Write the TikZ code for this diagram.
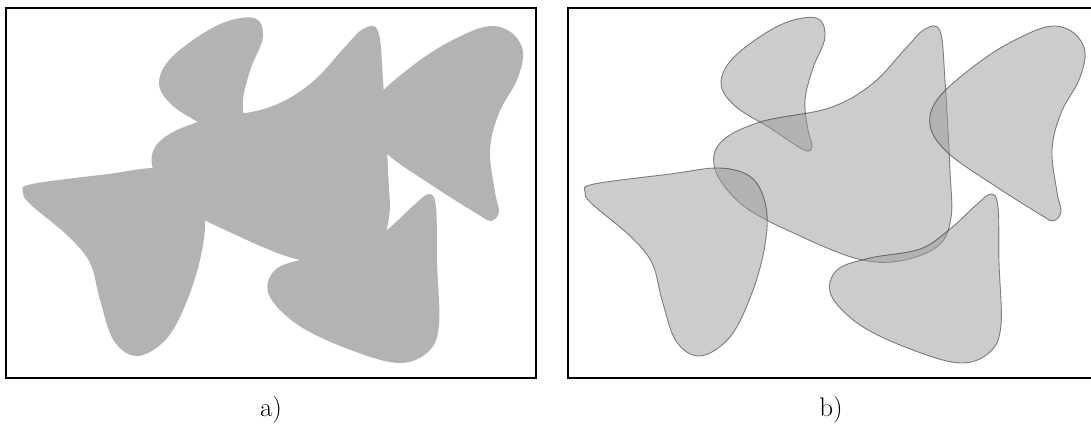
\documentclass[tikz,border=0pt]{standalone}
\usepackage{fontspec}
\usepackage{tikz}
\definecolor{unionfill}{RGB}{179,179,179}
\definecolor{blobgray}{RGB}{153,153,153}
\newcommand\BlobOne{plot[smooth cycle, tension=0.6] coordinates {(816,18) (825,37) (813,68) (805,100) (808,130) (812,146) (804,150) (770,128) (735,106) (721,83) (735,56) (780,25)}}
\newcommand\BlobTwo{plot[smooth cycle, tension=0.6] coordinates {(829,108) (872,84) (906,48) (925,29) (940,31) (945,80) (950,170) (951,218) (938,246) (900,261) (858,259) (800,236) (745,207) (716,172) (720,143) (760,122)}}
\newcommand\BlobThree{plot[smooth cycle, tension=0.6] coordinates {(1053,26) (1074,33) (1085,52) (1079,80) (1061,113) (1052,150) (1057,192) (1061,212) (1053,221) (1041,215) (995,186) (948,153) (930,125) (940,96) (985,58) (1025,35)}}
\newcommand\BlobFour{plot[smooth cycle, tension=0.6] coordinates {(594,184) (670,174) (720,168) (752,178) (766,207) (765,245) (752,293) (730,337) (700,356) (676,341) (662,300) (652,263) (630,236) (592,204) (585,192)}}
\newcommand\BlobFive{plot[smooth cycle, tension=0.6] coordinates {(991,194) (998,207) (999,262) (1001,325) (990,352) (960,363) (910,349) (860,325) (831,295) (837,270) (870,258) (920,249) (950,229) (975,206)}}
\tikzset{
  frame/.style={draw=black, line width=1.3pt},
  unionblob/.style={fill=unionfill, draw=none},
  glassblob/.style={fill=blobgray, fill opacity=0.5, draw=black, draw opacity=0.45, line width=0.9pt},
  caption/.style={anchor=base, inner sep=0pt}
}
\newcommand\CapFont{\fontsize{27}{32}\selectfont}
\begin{document}
\begin{tikzpicture}[x=1pt, y=-1pt]
\useasboundingbox (0,0) rectangle (1091,425);
% panel a: union
\begin{scope}[xshift=-562pt]
  \fill[unionblob] \BlobOne;
  \fill[unionblob] \BlobTwo;
  \fill[unionblob] \BlobThree;
  \fill[unionblob] \BlobFour;
  \fill[unionblob] \BlobFive;
\end{scope}
\draw[frame] (6,8) rectangle (536,378);
% panel b: overlapping shapes
\path[glassblob] \BlobOne;
\path[glassblob] \BlobTwo;
\path[glassblob] \BlobThree;
\path[glassblob] \BlobFour;
\path[glassblob] \BlobFive;
\draw[frame] (568,8) rectangle (1098,378);
\node[caption] (capa) at (271,416) {\CapFont a)};
\node[caption] (capb) at (831,416) {\CapFont b)};
\end{tikzpicture}
\end{document}
